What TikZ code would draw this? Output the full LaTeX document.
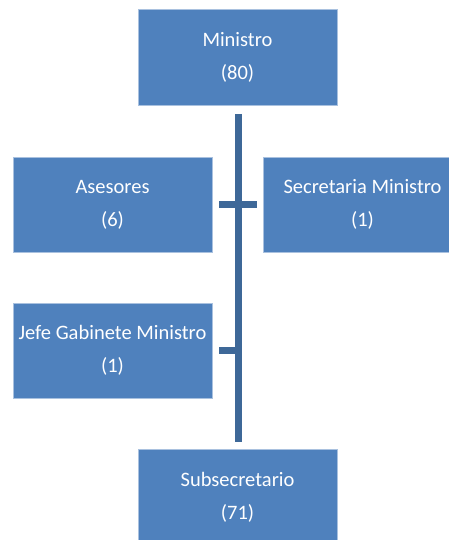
\documentclass[tikz,border=0pt]{standalone}
\usepackage{fontspec}
\setmainfont{Carlito}
\usetikzlibrary{positioning}
\definecolor{boxblue}{HTML}{4F81BD}
\definecolor{boxedge}{HTML}{A9C1DF}
\definecolor{spineblue}{HTML}{3E6898}

\begin{document}
\begin{tikzpicture}[x=1pt, y=-1pt,
    unit/.style={draw=boxedge, line width=0.6pt, fill=boxblue, text=white,
                 minimum width=199pt, minimum height=96pt, inner sep=0pt,
                 align=center, font=\fontsize{20.5}{33}\selectfont},
    spine/.style={draw=spineblue, line width=7pt}]
    \clip (0,0) rectangle (449,540);
    \useasboundingbox (0,0) rectangle (449,540);

    \node[unit] (min) at (237.5,57.5) {Ministro\\(80)};
    \node[unit, minimum height=95pt] (ase) at (112.5,204.5) {Asesores\\(6)};
    \node[unit, minimum height=95pt] (sec) at (362.5,204.5) {Secretaria Ministro\\(1)};
    \node[unit, minimum height=95pt] (jefe) at (112.5,350.5) {Jefe Gabinete Ministro\\(1)};
    \node[unit] (sub) at (237.5,497.5) {Subsecretario\\(71)};

    \coordinate (sp) at (238,114);
    \draw[spine] (sp) -- ([yshift=7pt]sub.north -| sp);
    \draw[spine] ([xshift=7pt]ase.east) -- ([xshift=-6pt]sec.west);
    \draw[spine] ([xshift=7pt]jefe.east) -- (jefe.east -| sp);
\end{tikzpicture}
\end{document}
